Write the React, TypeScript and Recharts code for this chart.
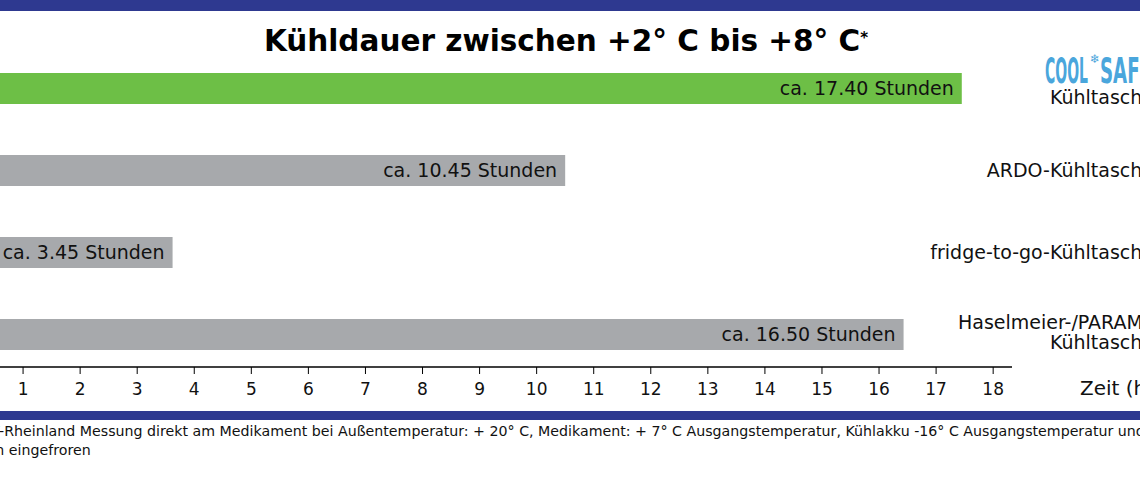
import { BarChart, Bar, XAxis, YAxis, Cell, LabelList } from 'recharts';

const categories = [
  'COOL SAFE Kühltasche',
  'ARDO-Kühltasche',
  'fridge-to-go-Kühltasche',
  'Haselmeier-/PARAMEDIC-\nKühltasche',
];
const hours = [17.45, 10.5, 3.62, 16.43];
const durationLabels = [
  'ca. 17.40 Stunden',
  'ca. 10.45 Stunden',
  'ca. 3.45 Stunden',
  'ca. 16.50 Stunden',
];
const barColors = ['#6dbf46', '#a7a9ac', '#a7a9ac', '#a7a9ac'];
const hourTicks = [1, 2, 3, 4, 5, 6, 7, 8, 9, 10, 11, 12, 13, 14, 15, 16, 17, 18];

const chartData = categories.map((name, i) => ({
  name,
  hours: hours[i],
  label: durationLabels[i],
}));

const NAVY = '#2e3990';
const FONT = '"DejaVu Sans", Verdana, sans-serif';
// chart is shifted left so that the 0-hour line sits just outside the picture
const SHIFT = 34;
const LABEL_RIGHT = 1154 + SHIFT;

function CategoryTick(props: any) {
  const { y, payload } = props;
  const value = String(payload.value);

  if (value.startsWith('COOL SAFE')) {
    return (
      <g>
        <text
          x={1045 + SHIFT}
          y={y - 5}
          fontSize={35}
          fontWeight="bold"
          fill="#4aa6dc"
          textLength={43}
          lengthAdjust="spacingAndGlyphs"
          fontFamily='"DejaVu Sans Condensed", "DejaVu Sans", sans-serif'
        >
          COOL
        </text>
        <text x={1090 + SHIFT} y={y - 25} fontSize={12} fill="#4aa6dc">
          ❄
        </text>
        <text
          x={1100 + SHIFT}
          y={y - 5}
          fontSize={35}
          fontWeight="bold"
          fill="#4aa6dc"
          textLength={52}
          lengthAdjust="spacingAndGlyphs"
          fontFamily='"DejaVu Sans Condensed", "DejaVu Sans", sans-serif'
        >
          SAFE
        </text>
        <text x={LABEL_RIGHT} y={y + 16} fontSize={19} fill="#111" textAnchor="end">
          Kühltasche
        </text>
      </g>
    );
  }

  const lines = value.split('\n');
  if (lines.length > 1) {
    return (
      <g>
        <text x={958 + SHIFT} y={y - 5} fontSize={19} fill="#111">
          {lines[0]}
        </text>
        <text x={LABEL_RIGHT} y={y + 15} fontSize={19} fill="#111" textAnchor="end">
          {lines[1]}
        </text>
      </g>
    );
  }

  return (
    <text x={LABEL_RIGHT} y={y + 7} fontSize={19} fill="#111" textAnchor="end">
      {value}
    </text>
  );
}

export default function App() {
  return (
    <div
      style={{
        position: 'absolute',
        left: 0,
        top: 0,
        width: 1140,
        height: 485,
        overflow: 'hidden',
        background: '#fff',
        fontFamily: FONT,
        color: '#111',
      }}
    >
      <div style={{ position: 'absolute', left: 0, top: 0, width: 1140, height: 11, background: NAVY }} />
      <div
        style={{
          position: 'absolute',
          left: -4,
          top: 27,
          width: 1140,
          textAlign: 'center',
          fontSize: 29.5,
          lineHeight: '29px',
          fontWeight: 'bold',
          color: '#000',
          whiteSpace: 'nowrap',
        }}
      >
        Kühldauer zwischen +2° C bis +8° C
        <span style={{ fontSize: 15, verticalAlign: 'top', position: 'relative', top: -3 }}>*</span>
      </div>

      <div style={{ position: 'absolute', left: -SHIFT, top: 0 }}>
        <BarChart
          width={1214}
          height={485}
          data={chartData}
          layout="vertical"
          margin={{ top: 47, right: 40, bottom: 88, left: 0 }}
        >
          <XAxis
            type="number"
            domain={[0, 18.33]}
            ticks={hourTicks}
            interval={0}
            allowDataOverflow
            height={30}
            tickSize={7}
            tickMargin={9}
            axisLine={{ stroke: '#000', strokeWidth: 1.5 }}
            tickLine={{ stroke: '#000', strokeWidth: 1 }}
            tick={{ fontSize: 17, fill: '#111' }}
          />
          <YAxis
            type="category"
            dataKey="name"
            orientation="right"
            width={128}
            axisLine={false}
            tickLine={false}
            padding={{ top: 0, bottom: -8 }}
            tick={<CategoryTick />}
          />
          <Bar dataKey="hours" barSize={31} isAnimationActive={false}>
            {chartData.map((d, i) => (
              <Cell key={d.name} fill={barColors[i]} />
            ))}
            <LabelList
              dataKey="label"
              position="insideRight"
              offset={8}
              fill="#111"
              fontSize={19}
            />
          </Bar>
        </BarChart>
      </div>

      <div style={{ position: 'absolute', left: 1080, top: 376, fontSize: 20, lineHeight: '24px', whiteSpace: 'nowrap' }}>
        Zeit (h)
      </div>

      <div style={{ position: 'absolute', left: 0, top: 411, width: 1140, height: 9, background: NAVY }} />
      <div style={{ position: 'absolute', left: -36, top: 422, fontSize: 14.2, lineHeight: '18px', whiteSpace: 'nowrap' }}>
        *TÜV-Rheinland Messung direkt am Medikament bei Außentemperatur: + 20° C, Medikament: + 7° C Ausgangstemperatur, Kühlakku -16° C Ausgangstemperatur und
      </div>
      <div style={{ position: 'absolute', left: -55, top: 441, fontSize: 14.2, lineHeight: '18px', whiteSpace: 'nowrap' }}>
        Stunden eingefroren
      </div>
    </div>
  );
}
